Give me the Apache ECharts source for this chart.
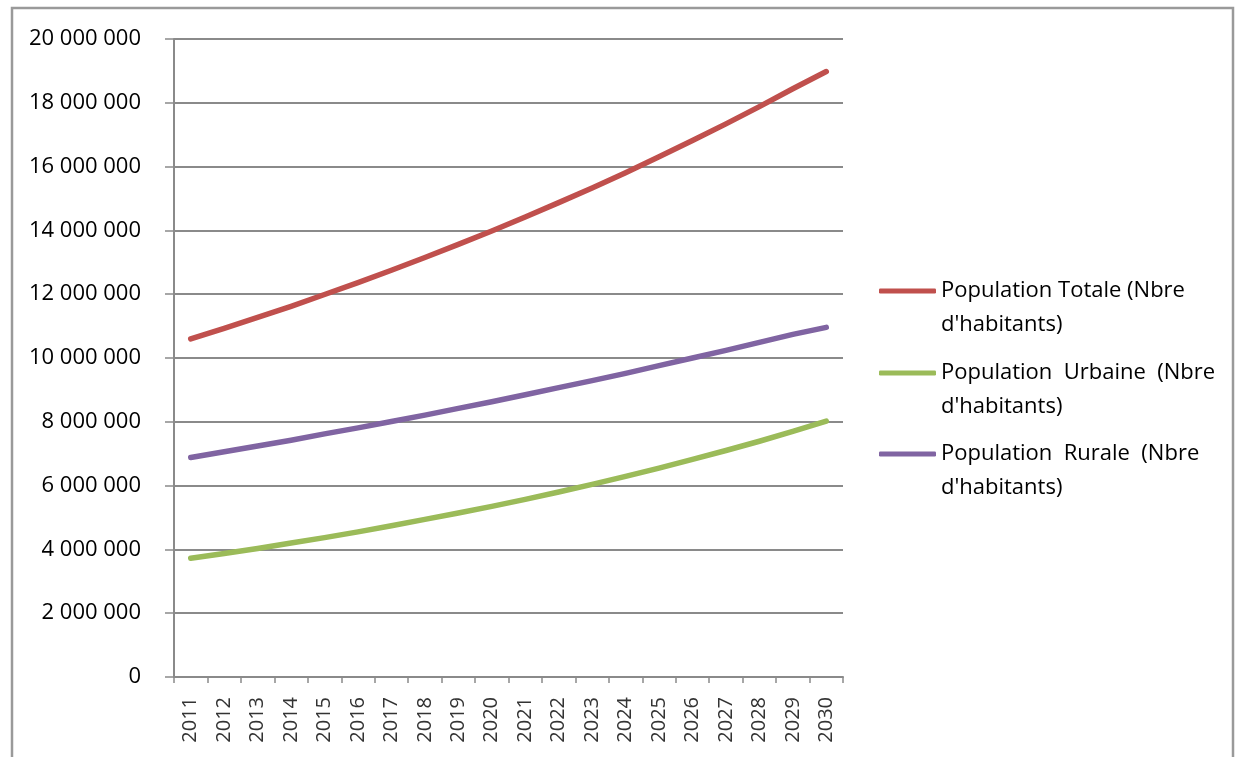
<!DOCTYPE html>
<html>
<head>
<meta charset="utf-8">
<script src="https://cdn.jsdelivr.net/npm/echarts@6/dist/echarts.min.js"></script>
<style>
  html, body { margin: 0; padding: 0; background: #fff; }
  #chart { width: 1242px; height: 757px; }
</style>
</head>
<body>
<div id="chart"></div>
<script>
// Years on the category axis
const years = ['2011','2012','2013','2014','2015','2016','2017','2018','2019','2020',
               '2021','2022','2023','2024','2025','2026','2027','2028','2029','2030'];

// Population (number of inhabitants)
const populationTotale = [10600000, 10930000, 11270000, 11620000, 11990000, 12360000, 12750000, 13150000, 13560000, 13980000,
                          14420000, 14870000, 15330000, 15810000, 16310000, 16820000, 17340000, 17880000, 18440000, 18980000];
const populationUrbaine = [3720000, 3870000, 4030000, 4200000, 4370000, 4550000, 4740000, 4940000, 5140000, 5350000,
                           5570000, 5800000, 6040000, 6290000, 6550000, 6820000, 7100000, 7390000, 7700000, 8020000];
const populationRurale = [6880000, 7060000, 7240000, 7420000, 7620000, 7810000, 8010000, 8210000, 8420000, 8630000,
                          8850000, 9070000, 9290000, 9520000, 9760000, 10000000, 10240000, 10490000, 10740000, 10960000];

const seriesNames = [
  "Population Totale (Nbre d'habitants)",
  "Population Urbaine (Nbre d'habitants)",
  "Population Rurale (Nbre d'habitants)"
];
// Legend text, broken over two lines
const legendText = {
  "Population Totale (Nbre d'habitants)": "Population Totale (Nbre\nd'habitants)",
  "Population Urbaine (Nbre d'habitants)": "Population  Urbaine  (Nbre\nd'habitants)",
  "Population Rurale (Nbre d'habitants)": "Population  Rurale  (Nbre\nd'habitants)"
};
const colors = ['#C0504D', '#9BBB59', '#8064A2'];

const FONT = '"Open Sans", "Noto Sans", sans-serif';

function spaced(v) {
  return String(v).replace(/\B(?=(\d{3})+(?!\d))/g, ' ');
}

function legendFor(name, top) {
  return {
    data: [name],
    left: 879,
    top: top,
    orient: 'vertical',
    padding: 0,
    icon: 'roundRect',
    itemWidth: 57,
    itemHeight: 5,
    selectedMode: false,
    formatter: n => ' \n' + legendText[n],
    textStyle: { fontFamily: FONT, fontSize: 22, color: '#000', lineHeight: 34 }
  };
}

const chart = echarts.init(document.getElementById('chart'), null, { renderer: 'canvas' });

chart.setOption({
  animation: false,
  backgroundColor: '#fff',
  color: colors,
  graphic: [{
    type: 'rect',
    shape: { x: 12, y: 8, width: 1221, height: 780 },
    style: { fill: 'none', stroke: '#9a9a9a', lineWidth: 2.5 },
    silent: true
  }],
  grid: { left: 174, right: 399, top: 39, bottom: 80, containLabel: false },
  legend: [
    legendFor(seriesNames[0], 240),
    legendFor(seriesNames[1], 322),
    legendFor(seriesNames[2], 403)
  ],
  xAxis: {
    type: 'category',
    data: years,
    boundaryGap: true,
    axisLine: { show: true, lineStyle: { color: '#8a8a8a', width: 2 } },
    axisTick: { show: true, interval: 0, length: 6, lineStyle: { color: '#8a8a8a', width: 1.5 } },
    axisLabel: {
      interval: 0, rotate: 90, margin: 20,
      fontFamily: FONT, fontSize: 20, color: '#333'
    },
    splitLine: { show: false }
  },
  yAxis: {
    type: 'value',
    min: 0,
    max: 20000000,
    interval: 2000000,
    axisLine: { show: true, lineStyle: { color: '#8a8a8a', width: 2 } },
    axisTick: { show: true, length: 9, lineStyle: { color: '#8a8a8a', width: 1.5 } },
    axisLabel: {
      margin: 33,
      fontFamily: FONT, fontSize: 22, color: '#000',
      formatter: v => spaced(v)
    },
    splitLine: { show: true, lineStyle: { color: '#8a8a8a', width: 2 } }
  },
  series: [
    { name: seriesNames[0], data: populationTotale },
    { name: seriesNames[1], data: populationUrbaine },
    { name: seriesNames[2], data: populationRurale }
  ].map((s, i) => ({
    type: 'line',
    name: s.name,
    data: s.data,
    showSymbol: false,
    symbol: 'none',
    smooth: false,
    lineStyle: { width: 5.5, color: colors[i], cap: 'round', join: 'round' },
    itemStyle: { color: colors[i] }
  }))
});
</script>
</body>
</html>
